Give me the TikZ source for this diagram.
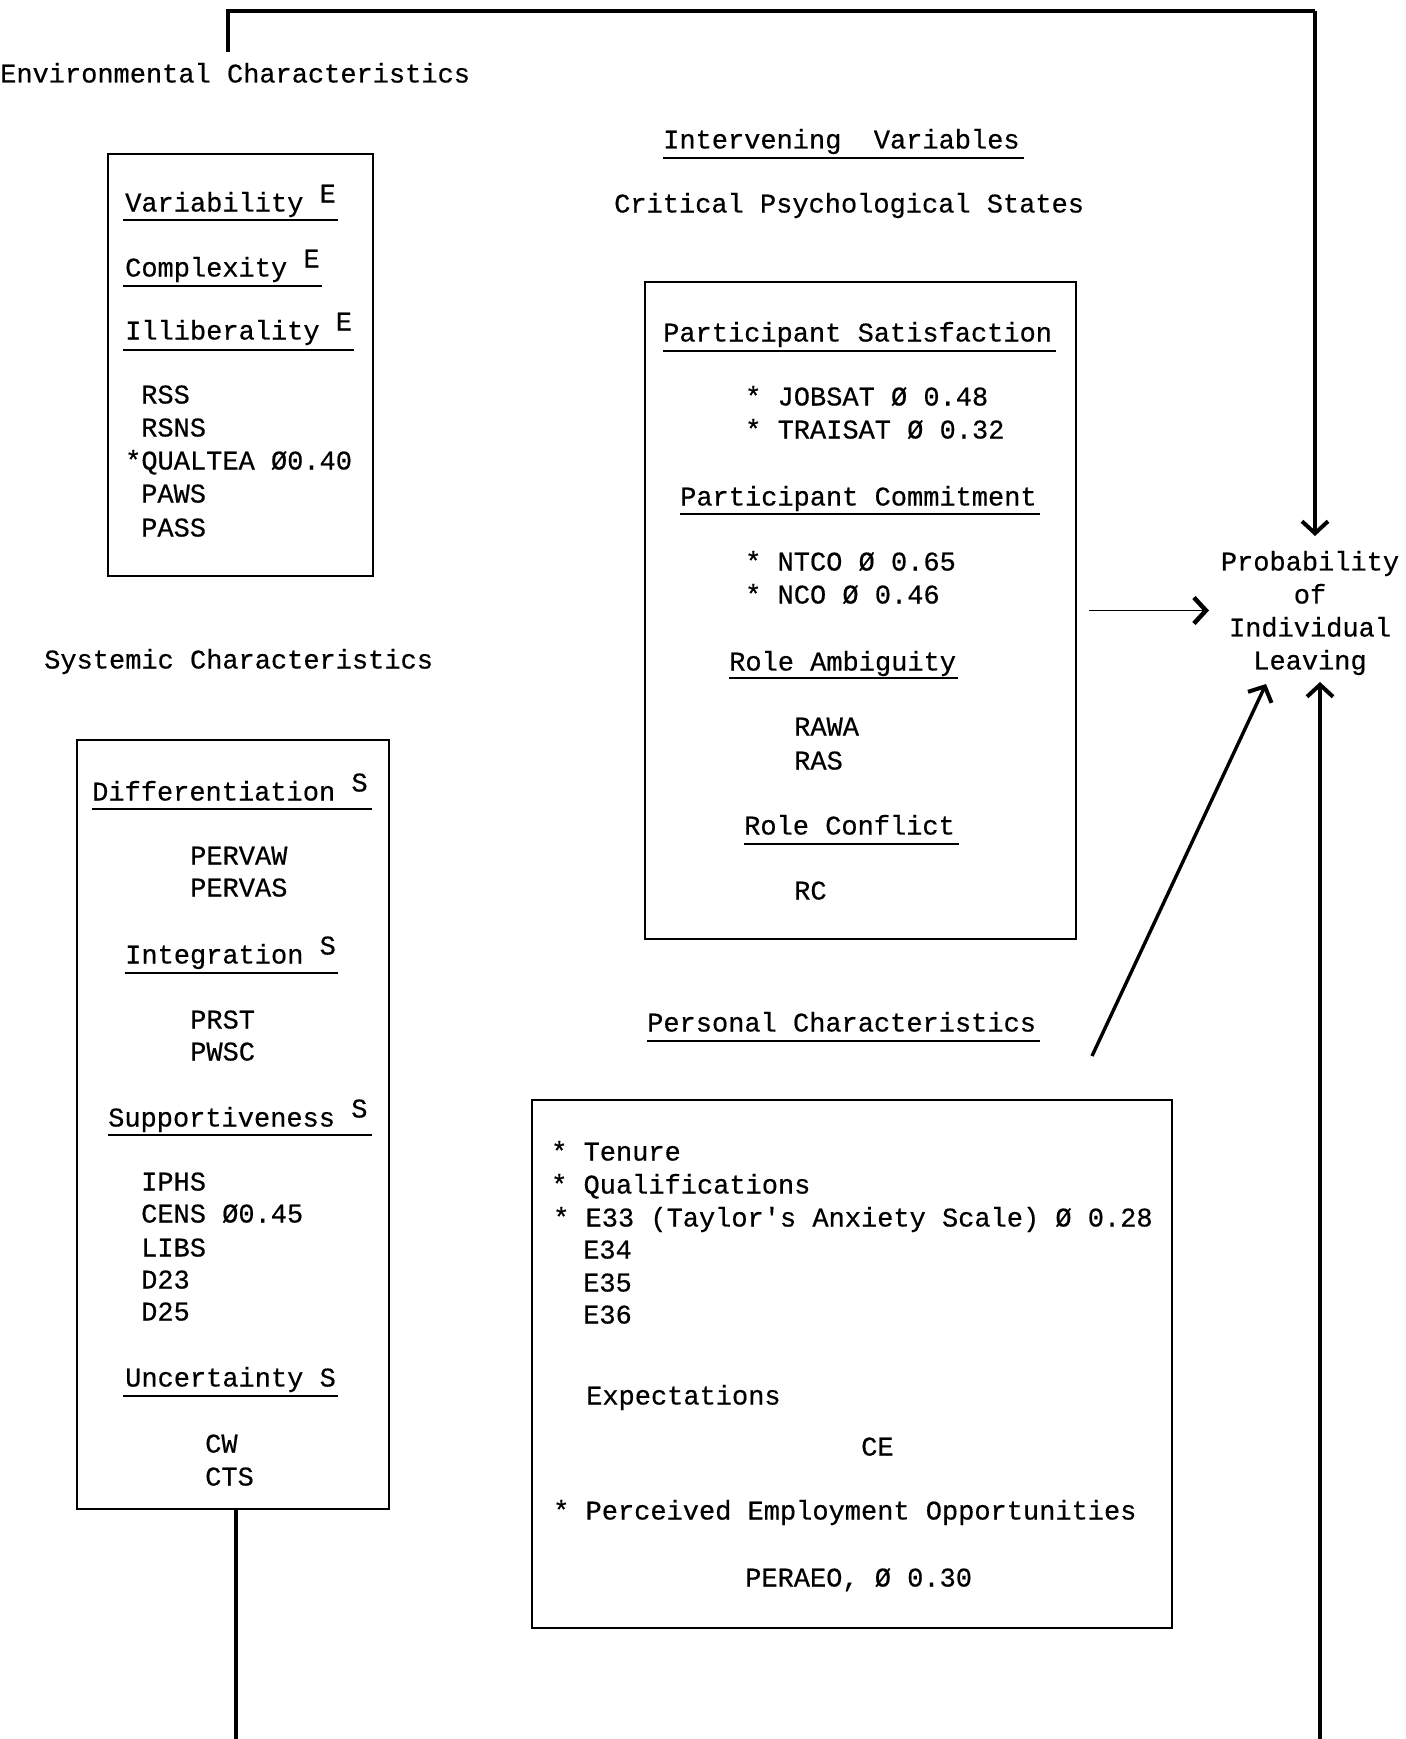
\documentclass[tikz,border=0pt]{standalone}
\usepackage{fontspec}
\setmonofont{Liberation Mono}[BoldFont={Liberation Mono}, BoldFeatures={FakeBold=0.5}]
\usetikzlibrary{arrows.meta}
\newcommand\mytt{\fontsize{27}{33}\selectfont\ttfamily\bfseries}
\newcommand\upE[1]{\raisebox{9pt}{#1}}
\begin{document}
\begin{tikzpicture}[x=1pt,y=-1pt,
  txt/.style={anchor=base west, inner sep=0pt, font=\mytt, yshift=-2.5pt},
  boxst/.style={draw, line width=2.6pt, inner sep=0pt},
  uline/.style={line width=1.8pt},
  conn/.style={line width=3.2pt},
  arr/.style={line width=3.4pt, -{Straight Barb[length=12pt,width=26pt,line width=4pt]}},
  thinarr/.style={line width=1.8pt, -{Straight Barb[length=12pt,width=26pt,line width=4.5pt]}}]
\useasboundingbox (0,0) rectangle (1405,1739);

% ---------- boxes ----------
\node[boxst, minimum width=265pt, minimum height=422pt] (envbox) at (240.5,365) {};
\node[boxst, minimum width=312pt, minimum height=769pt] (sysbox) at (233,1124.5) {};
\node[boxst, minimum width=431pt, minimum height=657pt] (cpsbox) at (860.5,610.5) {};
\node[boxst, minimum width=640pt, minimum height=528pt] (persbox) at (852,1364) {};

% ---------- headings ----------
\node[txt] (envlab) at (0,80) {Environmental Characteristics};
\node[txt] (syslab) at (44,666) {Systemic Characteristics};
\node[txt] (ivlab) at (663,146) {Intervening\ \ Variables};
\draw[uline] (663,158) -- (1024,158);
\node[txt] (cpslab) at (614,210) {Critical Psychological States};
\node[txt] (perslab) at (647,1029) {Personal Characteristics};
\draw[uline] (647,1041) -- (1040,1041);

% ---------- environmental box ----------
\node[txt] (var) at (125,209) {Variability \upE{E}};
\draw[uline] (123,220) -- (338,220);
\node[txt] (cplx) at (125,274) {Complexity \upE{E}};
\draw[uline] (123,286) -- (322,286);
\node[txt] (illib) at (125,337) {Illiberality \upE{E}};
\draw[uline] (123,350) -- (354,350);
\node[txt] (rss) at (141,401) {RSS};
\node[txt] (rsns) at (141,434) {RSNS};
\node[txt] (qual) at (125,467) {*QUALTEA Ø0.40};
\node[txt] (paws) at (141,500) {PAWS};
\node[txt] (pass) at (141,534) {PASS};

% ---------- systemic box ----------
\node[txt] (diff) at (92,798) {Differentiation \upE{S}};
\draw[uline] (92,809) -- (372,809);
\node[txt] (pervaw) at (190,862) {PERVAW};
\node[txt] (pervas) at (190,894) {PERVAS};
\node[txt] (integ) at (125,961) {Integration \upE{S}};
\draw[uline] (125,973) -- (338,973);
\node[txt] (prst) at (190,1026) {PRST};
\node[txt] (pwsc) at (190,1058) {PWSC};
\node[txt] (supp) at (108,1124) {Supportiveness \upE{S}};
\draw[uline] (108,1135) -- (372,1135);
\node[txt] (iphs) at (141,1188) {IPHS};
\node[txt] (cens) at (141,1220) {CENS Ø0.45};
\node[txt] (libs) at (141,1254) {LIBS};
\node[txt] (d23) at (141,1286) {D23};
\node[txt] (d25) at (141,1318) {D25};
\node[txt] (unc) at (125,1384) {Uncertainty S};
\draw[uline] (123,1396) -- (338,1396);
\node[txt] (cw) at (205,1450) {CW};
\node[txt] (cts) at (205,1483) {CTS};

% ---------- critical psychological states box ----------
\node[txt] (psat) at (663,339) {Participant Satisfaction};
\draw[uline] (663,351) -- (1056,351);
\node[txt] (jobsat) at (745,403) {* JOBSAT Ø 0.48};
\node[txt] (traisat) at (745,436) {* TRAISAT Ø 0.32};
\node[txt] (pcom) at (680,503) {Participant Commitment};
\draw[uline] (680,514) -- (1040,514);
\node[txt] (ntco) at (745,568) {* NTCO Ø 0.65};
\node[txt] (nco) at (745,601) {* NCO Ø 0.46};
\node[txt] (ramb) at (729,668) {Role Ambiguity};
\draw[uline] (729,678) -- (958,678);
\node[txt] (rawa) at (794,733) {RAWA};
\node[txt] (ras) at (794,767) {RAS};
\node[txt] (rconf) at (744,832) {Role Conflict};
\draw[uline] (744,844) -- (959,844);
\node[txt] (rc) at (794,897) {RC};

% ---------- personal box ----------
\node[txt] (tenure) at (551,1158) {* Tenure};
\node[txt] (qualif) at (551,1191) {* Qualifications};
\node[txt] (e33) at (553,1224) {* E33 (Taylor's Anxiety Scale) Ø 0.28};
\node[txt] (e34) at (583,1256) {E34};
\node[txt] (e35) at (583,1289) {E35};
\node[txt] (e36) at (583,1321) {E36};
\node[txt] (expect) at (586,1402) {Expectations};
\node[txt] (ce) at (861,1453) {CE};
\node[txt] (peo) at (553,1517) {* Perceived Employment Opportunities};
\node[txt] (peraeo) at (745,1584) {PERAEO, Ø 0.30};

% ---------- outcome ----------
\node[font=\mytt, align=center, inner sep=0pt] (prob) at (1310,613)
  {Probability\\of\\Individual\\Leaving};

% ---------- connectors ----------
\coordinate (envtop) at (228,52);
\coordinate (corner) at (1315,11);
\coordinate (ptop) at (1315,536);
\coordinate (pleft) at (1209,609);
\coordinate (pdiag) at (1266,684);
\coordinate (pbot) at (1320,682);
\coordinate (persout) at (1092,1056);
\coordinate (sysend) at (236,1739);
\coordinate (botstart) at (1320,1739);

\draw[conn] (envtop) |- (corner);
\draw[arr] (corner) -- (ptop);
\draw[thinarr, shorten <=12pt] (cpsbox.east) -- (cpsbox.east -| pleft);
\draw[arr] (persout) -- (pdiag);
\draw[conn] (sysbox.south -| sysend) -- (sysend);
\draw[arr] (botstart) -- (pbot);
\end{tikzpicture}
\end{document}
